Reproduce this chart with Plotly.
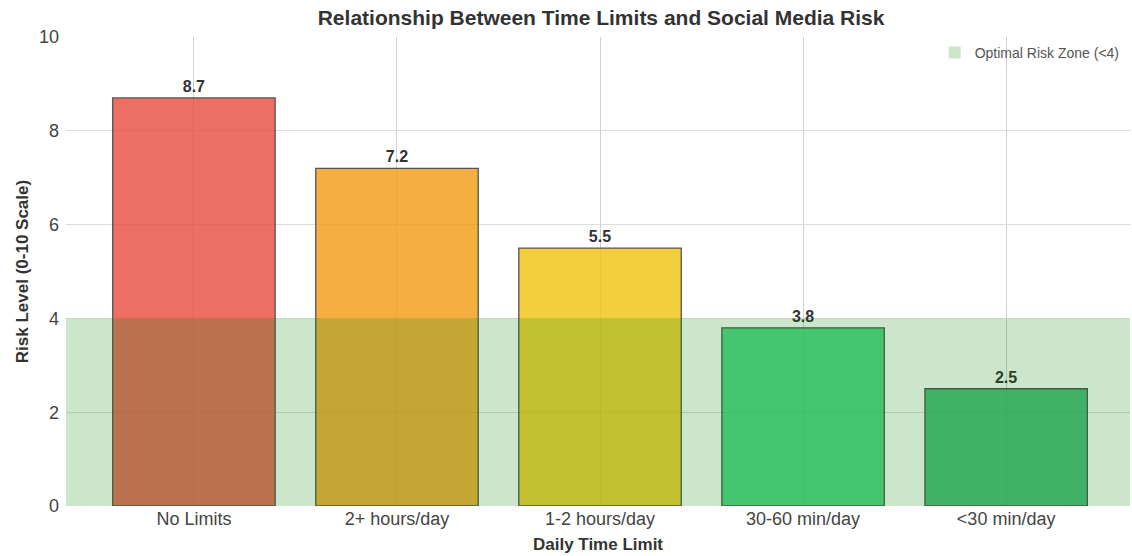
import plotly.graph_objects as go

categories = ["No Limits", "2+ hours/day", "1-2 hours/day", "30-60 min/day", "<30 min/day"]
risk_levels = [8.7, 7.2, 5.5, 3.8, 2.5]
bar_colors = ["#e74c3c", "#f39c12", "#f1c40f", "#2ecc71", "#27ae60"]
optimal_threshold = 4
zone_label = "Optimal Risk Zone (<4)"

FONT = "Liberation Sans, Arial, sans-serif"

fig = go.Figure()

fig.add_trace(go.Bar(
    x=list(range(len(categories))),
    y=risk_levels,
    marker=dict(color=bar_colors, opacity=0.8,
                line=dict(color="#2a2a2a", width=1.3)),
    width=0.8,
    text=[f"{v:.1f}" for v in risk_levels],
    textposition="outside",
    textfont=dict(family=FONT, size=16, color="#333333", weight="bold"),
    cliponaxis=False,
    showlegend=False,
    hoverinfo="skip",
))

# shaded band marking the optimal zone, drawn over the bars
fig.add_shape(
    type="rect", xref="paper", yref="y",
    x0=0, x1=1, y0=0, y1=optimal_threshold,
    fillcolor="rgba(0,128,0,0.2)", line=dict(width=0),
    layer="above",
    showlegend=True, name=zone_label,
)

fig.update_layout(
    width=1132, height=556,
    margin=dict(l=66, r=2, t=37, b=50, autoexpand=False),
    paper_bgcolor="white", plot_bgcolor="white",
    font=dict(family=FONT, color="#444444"),
    title=dict(text="<b>Relationship Between Time Limits and Social Media Risk</b>",
               x=0.531, xanchor="center", y=0.968, yanchor="middle",
               font=dict(family=FONT, size=21, color="#333333")),
    legend=dict(x=0.995, y=1.0, xanchor="right", yanchor="top",
                bgcolor="rgba(255,255,255,0)", borderwidth=0,
                font=dict(family=FONT, size=14, color="#555555")),
    xaxis=dict(
        tickmode="array", tickvals=list(range(len(categories))), ticktext=categories,
        range=[-0.63, 4.61],
        showgrid=True, gridcolor="#d0d0d0", gridwidth=1,
        zeroline=False, showline=False, ticks="",
        tickfont=dict(family=FONT, size=18, color="#444444"),
        title=dict(text="<b>Daily Time Limit</b>", standoff=10,
                   font=dict(family=FONT, size=17, color="#333333")),
    ),
    yaxis=dict(
        range=[0, 10], tickvals=[0, 2, 4, 6, 8, 10],
        showgrid=True, gridcolor="#dcdcdc", gridwidth=1,
        zeroline=False, showline=False, ticks="",
        ticklabelstandoff=6,
        tickfont=dict(family=FONT, size=18, color="#444444"),
        title=dict(text="<b>Risk Level (0-10 Scale)</b>", standoff=6,
                   font=dict(family=FONT, size=17, color="#333333")),
    ),
    bargap=0.2,
)

fig.write_html("out.html")
